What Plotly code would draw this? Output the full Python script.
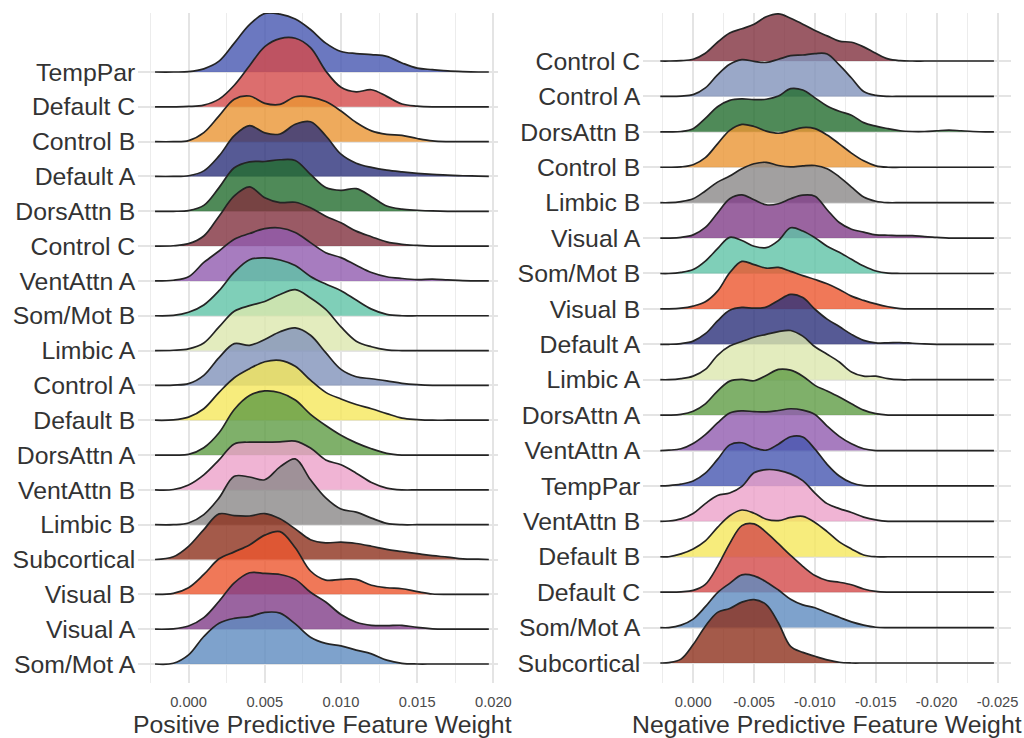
import plotly.graph_objects as go

# ---------------- data ----------------
# x grids (feature weight) at which ridge heights were read
X_POS = [-0.0022, -0.001, 0.000, 0.001, 0.002, 0.003, 0.004, 0.005, 0.006, 0.007, 0.008,
         0.009, 0.010, 0.011, 0.012, 0.013, 0.014, 0.015, 0.016, 0.017, 0.018, 0.019, 0.0197]
X_NEG = [0.0027, 0.002, 0.001, 0.000, -0.001, -0.002, -0.003, -0.004, -0.005, -0.006, -0.007,
         -0.008, -0.009, -0.010, -0.011, -0.012, -0.013, -0.014, -0.015, -0.016, -0.017,
         -0.018, -0.019, -0.020, -0.021, -0.022, -0.023, -0.024, -0.0247]

# row order, bottom -> top
POS_ORDER = ["Som/Mot A", "Visual A", "Visual B", "Subcortical", "Limbic B", "VentAttn B",
             "DorsAttn A", "Default B", "Control A", "Limbic A", "Som/Mot B", "VentAttn A",
             "Control C", "DorsAttn B", "Default A", "Control B", "Default C", "TempPar"]
NEG_ORDER = ["Subcortical", "Som/Mot A", "Default C", "Default B", "VentAttn B", "TempPar",
             "VentAttn A", "DorsAttn A", "Limbic A", "Default A", "Visual B", "Som/Mot B",
             "Visual A", "Limbic B", "Control B", "DorsAttn B", "Control A", "Control C"]

# scaled density heights (in row units)
POS_DENSITY = {
    "TempPar":     [0, 0, 0.01, 0.09, 0.31, 0.83, 1.36, 1.68, 1.66, 1.52, 1.22, 0.83, 0.59, 0.53, 0.50, 0.45, 0.26, 0.11, 0.07, 0.03, 0.01, 0, 0],
    "Default C":   [0, 0, 0.01, 0.05, 0.22, 0.62, 1.18, 1.73, 1.96, 1.97, 1.70, 1.03, 0.56, 0.43, 0.49, 0.30, 0.08, 0.02, 0, 0, 0, 0, 0],
    "Control B":   [0, 0, 0.03, 0.26, 0.74, 1.22, 1.31, 1.10, 1.07, 1.29, 1.28, 1.15, 0.88, 0.55, 0.31, 0.21, 0.18, 0.09, 0.02, 0, 0, 0, 0],
    "Default A":   [0, 0, 0.02, 0.16, 0.59, 1.17, 1.46, 1.25, 1.22, 1.50, 1.57, 1.17, 0.64, 0.38, 0.26, 0.18, 0.13, 0.09, 0.06, 0.04, 0.02, 0.01, 0],
    "DorsAttn B":  [0, 0, 0.02, 0.17, 0.68, 1.25, 1.42, 1.43, 1.48, 1.46, 1.06, 0.68, 0.60, 0.65, 0.42, 0.15, 0.06, 0.03, 0.01, 0, 0, 0, 0],
    "Control C":   [0, 0.01, 0.07, 0.29, 0.86, 1.44, 1.70, 1.39, 1.25, 1.26, 1.10, 0.86, 0.67, 0.43, 0.27, 0.12, 0.05, 0.02, 0, 0, 0, 0, 0],
    "VentAttn A":  [0, 0.02, 0.12, 0.53, 0.86, 1.20, 1.36, 1.50, 1.52, 1.39, 1.10, 0.81, 0.67, 0.45, 0.24, 0.12, 0.07, 0.04, 0.05, 0.03, 0.01, 0, 0],
    "Som/Mot B":   [0, 0.01, 0.10, 0.31, 0.72, 1.25, 1.61, 1.66, 1.60, 1.44, 1.13, 0.91, 0.72, 0.45, 0.19, 0.04, 0, 0, 0, 0, 0, 0, 0],
    "Limbic A":    [0, 0.01, 0.05, 0.22, 0.68, 1.13, 1.29, 1.41, 1.61, 1.75, 1.51, 1.18, 0.68, 0.27, 0.11, 0.02, 0, 0, 0, 0, 0, 0, 0],
    "Control A":   [0, 0.01, 0.05, 0.29, 0.80, 1.20, 1.15, 1.32, 1.54, 1.65, 1.44, 0.94, 0.46, 0.25, 0.19, 0.13, 0.06, 0.02, 0, 0, 0, 0, 0],
    "Default B":   [0, 0.01, 0.09, 0.33, 0.80, 1.22, 1.48, 1.68, 1.72, 1.55, 1.15, 0.80, 0.61, 0.45, 0.33, 0.19, 0.06, 0.02, 0, 0, 0, 0, 0],
    "DorsAttn A":  [0, 0, 0.02, 0.21, 0.64, 1.31, 1.71, 1.84, 1.79, 1.58, 1.17, 0.85, 0.57, 0.35, 0.18, 0.05, 0, 0, 0, 0, 0, 0, 0],
    "VentAttn B":  [0, 0.01, 0.14, 0.43, 0.86, 1.32, 1.37, 1.37, 1.38, 1.40, 1.20, 0.86, 0.72, 0.48, 0.21, 0.05, 0, 0, 0, 0, 0, 0, 0],
    "Limbic B":    [0, 0, 0.05, 0.29, 0.77, 1.39, 1.37, 1.29, 1.66, 1.89, 1.29, 0.77, 0.45, 0.36, 0.19, 0.04, 0, 0, 0, 0, 0, 0, 0],
    "Subcortical": [0, 0.08, 0.38, 0.86, 1.31, 1.26, 1.25, 1.32, 1.17, 0.88, 0.57, 0.48, 0.50, 0.46, 0.38, 0.29, 0.23, 0.17, 0.11, 0.07, 0.02, 0.01, 0],
    "Visual B":    [0, 0.03, 0.19, 0.57, 1.02, 1.22, 1.42, 1.70, 1.80, 1.34, 0.67, 0.41, 0.43, 0.43, 0.26, 0.19, 0.16, 0.08, 0.01, 0, 0, 0, 0],
    "Visual A":    [0, 0.01, 0.09, 0.33, 0.80, 1.33, 1.62, 1.60, 1.57, 1.43, 1.06, 0.78, 0.42, 0.20, 0.11, 0.10, 0.11, 0.05, 0.01, 0, 0, 0, 0],
    "Som/Mot A":   [0, 0.02, 0.26, 0.79, 1.17, 1.31, 1.36, 1.48, 1.46, 1.15, 0.77, 0.59, 0.52, 0.40, 0.29, 0.11, 0.02, 0, 0, 0, 0, 0, 0],
}

NEG_DENSITY = {
    "Control C":   [0, 0, 0.01, 0.05, 0.22, 0.53, 0.79, 0.91, 1.04, 1.25, 1.33, 1.21, 1.04, 0.86, 0.71, 0.56, 0.53, 0.40, 0.22, 0.06, 0.01, 0, 0, 0, 0, 0, 0, 0, 0],
    "Control A":   [0, 0, 0.01, 0.05, 0.24, 0.61, 0.91, 1.04, 0.99, 0.96, 1.05, 1.15, 1.17, 1.21, 1.20, 0.89, 0.52, 0.14, 0.03, 0, 0, 0, 0, 0, 0, 0, 0, 0, 0],
    "DorsAttn B":  [0, 0, 0.01, 0.09, 0.38, 0.71, 0.89, 0.93, 0.91, 0.92, 1.01, 1.22, 1.18, 0.96, 0.73, 0.58, 0.47, 0.26, 0.16, 0.09, 0.03, 0.01, 0.01, 0.03, 0.05, 0.03, 0.01, 0, 0],
    "Control B":   [0, 0, 0.01, 0.07, 0.27, 0.66, 1.04, 1.21, 1.15, 1.02, 0.96, 1.03, 1.12, 1.09, 0.91, 0.66, 0.40, 0.18, 0.04, 0, 0, 0, 0, 0, 0, 0, 0, 0, 0],
    "Limbic B":    [0, 0, 0.03, 0.11, 0.33, 0.58, 0.75, 0.96, 1.10, 1.14, 1.05, 1.01, 1.04, 1.05, 0.96, 0.73, 0.44, 0.16, 0.04, 0, 0, 0, 0, 0, 0, 0, 0, 0, 0],
    "Visual A":    [0, 0, 0.02, 0.09, 0.30, 0.71, 1.11, 1.22, 1.08, 0.94, 0.97, 1.11, 1.21, 1.18, 0.80, 0.44, 0.25, 0.17, 0.09, 0.08, 0.07, 0.07, 0.04, 0.02, 0, 0, 0, 0, 0],
    "Som/Mot B":   [0, 0, 0.03, 0.11, 0.35, 0.70, 1.02, 0.93, 0.77, 0.73, 0.93, 1.29, 1.20, 1.01, 0.77, 0.60, 0.40, 0.21, 0.07, 0.01, 0, 0, 0, 0, 0, 0, 0, 0, 0],
    "Visual B":    [0, 0, 0.02, 0.08, 0.20, 0.50, 1.02, 1.34, 1.25, 1.15, 1.17, 1.06, 0.94, 0.83, 0.71, 0.55, 0.36, 0.24, 0.14, 0.06, 0.01, 0, 0, 0, 0, 0, 0, 0, 0],
    "Default A":   [0, 0, 0.02, 0.09, 0.30, 0.66, 0.96, 1.04, 1.02, 1.05, 1.24, 1.41, 1.32, 0.99, 0.71, 0.50, 0.28, 0.11, 0.04, 0.04, 0.05, 0.03, 0.01, 0, 0, 0, 0, 0, 0],
    "Limbic A":    [0, 0, 0.03, 0.10, 0.29, 0.69, 0.95, 1.08, 1.20, 1.28, 1.36, 1.39, 1.23, 0.93, 0.72, 0.50, 0.22, 0.10, 0.10, 0.03, 0, 0, 0, 0, 0, 0, 0, 0, 0],
    "DorsAttn A":  [0, 0, 0.02, 0.11, 0.32, 0.68, 0.96, 1.01, 0.97, 1.12, 1.29, 1.27, 1.10, 0.84, 0.68, 0.51, 0.32, 0.14, 0.04, 0, 0, 0, 0, 0, 0, 0, 0, 0, 0],
    "VentAttn A":  [0, 0.01, 0.05, 0.20, 0.45, 0.78, 1.06, 1.12, 1.10, 1.09, 1.13, 1.18, 1.14, 1.02, 0.69, 0.40, 0.19, 0.05, 0, 0, 0, 0, 0, 0, 0, 0, 0, 0, 0],
    "TempPar":     [0, 0.01, 0.05, 0.14, 0.36, 0.75, 1.16, 1.22, 1.08, 1.01, 1.18, 1.39, 1.38, 1.04, 0.61, 0.28, 0.09, 0.01, 0, 0, 0, 0, 0, 0, 0, 0, 0, 0, 0],
    "VentAttn B":  [0, 0.01, 0.07, 0.22, 0.50, 0.73, 0.80, 0.99, 1.37, 1.46, 1.44, 1.34, 1.15, 0.80, 0.50, 0.36, 0.25, 0.12, 0.04, 0, 0, 0, 0, 0, 0, 0, 0, 0, 0],
    "Default B":   [0, 0, 0.08, 0.22, 0.45, 0.83, 1.16, 1.32, 1.23, 1.06, 1.02, 1.11, 1.14, 0.97, 0.71, 0.42, 0.22, 0.05, 0, 0, 0, 0, 0, 0, 0, 0, 0, 0, 0],
    "Default C":   [0, 0, 0.01, 0.05, 0.22, 0.73, 1.37, 1.88, 1.93, 1.69, 1.37, 1.04, 0.73, 0.47, 0.33, 0.28, 0.21, 0.09, 0.02, 0, 0, 0, 0, 0, 0, 0, 0, 0, 0],
    "Som/Mot A":   [0, 0, 0.07, 0.24, 0.59, 0.99, 1.25, 1.49, 1.46, 1.29, 1.06, 0.80, 0.64, 0.56, 0.42, 0.29, 0.16, 0.07, 0.01, 0, 0, 0, 0, 0, 0, 0, 0, 0, 0],
    "Subcortical": [0, 0.01, 0.11, 0.52, 1.04, 1.43, 1.54, 1.72, 1.79, 1.65, 1.13, 0.47, 0.30, 0.19, 0.09, 0.02, 0, 0, 0, 0, 0, 0, 0, 0, 0, 0, 0, 0, 0],
}

NETWORK_COLORS = {
    "TempPar": "#4656b0", "Default C": "#d34a4a", "Control B": "#ea9533", "Default A": "#2c317a",
    "DorsAttn B": "#236d2e", "Control C": "#81313e", "VentAttn A": "#915baf", "Som/Mot B": "#5fc3a6",
    "Limbic A": "#dce7ae", "Control A": "#8192ba", "Default B": "#f5e75b", "DorsAttn A": "#5f9c45",
    "VentAttn B": "#eca1c9", "Limbic B": "#8b8888", "Subcortical": "#8d311d", "Visual B": "#ec562e",
    "Visual A": "#813d88", "Som/Mot A": "#5e8bbf",
}

POS_TICKS = [0.000, 0.005, 0.010, 0.015, 0.020]
POS_TICKTEXT = ["0.000", "0.005", "0.010", "0.015", "0.020"]
NEG_TICKS = [0.000, -0.005, -0.010, -0.015, -0.020, -0.025]
NEG_TICKTEXT = ["0.000", "-0.005", "-0.010", "-0.015", "-0.020", "-0.025"]

# ---------------- figure ----------------
REF_W, H = 1024, 738          # layout reference frame (fractions below are of this width)
FIG_W = 1040                  # page is captured ~16px wider than the window; keep proportions
FONT = "Liberation Sans, Arial, Helvetica, sans-serif"
ALPHA = 0.8


def rgba(hexcol, a):
    h = hexcol.lstrip("#")
    r, g, b = int(h[0:2], 16), int(h[2:4], 16), int(h[4:6], 16)
    return f"rgba({r},{g},{b},{a})"


fig = go.Figure()


def add_panel(xs, order, dens, xa, ya):
    for idx in reversed(range(len(order))):
        row = idx + 1
        name = order[idx]
        fig.add_trace(go.Scatter(x=xs, y=[row] * len(xs), mode="lines",
                                 line=dict(width=0, color="rgba(0,0,0,0)"),
                                 hoverinfo="skip", showlegend=False, xaxis=xa, yaxis=ya))
        fig.add_trace(go.Scatter(x=xs, y=[row + h for h in dens[name]], mode="lines",
                                 fill="tonexty", fillcolor=rgba(NETWORK_COLORS[name], ALPHA),
                                 line=dict(color="#242424", width=1.7, shape="spline", smoothing=1.0),
                                 name=name, showlegend=False, xaxis=xa, yaxis=ya))


add_panel(X_POS, POS_ORDER, POS_DENSITY, "x", "y")
add_panel(X_NEG, NEG_ORDER, NEG_DENSITY, "x2", "y2")

y_dom = [1 - 683 / H, 1 - 13 / H]
grid_major = "#e4e4e4"
grid_minor = "#ececec"

xcommon = dict(showgrid=True, gridcolor=grid_major, gridwidth=1.6, zeroline=False, showline=False,
               ticks="outside", ticklen=5, tickcolor="rgba(0,0,0,0)",
               tickfont=dict(family=FONT, size=14.7, color="#4a4a4a"), fixedrange=True)
ycommon = dict(showgrid=True, gridcolor=grid_major, gridwidth=1.6, zeroline=False, showline=False,
               ticks="", ticklabelstandoff=2,
               tickfont=dict(family=FONT, size=24.8, color="#333333"), fixedrange=True,
               tickmode="array", tickvals=list(range(1, 19)))

fig.update_layout(
    width=FIG_W, height=H, autosize=False, margin=dict(l=0, r=0, t=0, b=0),
    paper_bgcolor="white", plot_bgcolor="white", showlegend=False,
    xaxis=dict(domain=[138 / REF_W, 497 / REF_W], range=[-0.0033, 0.0203], anchor="y",
               tickmode="array", tickvals=POS_TICKS, ticktext=POS_TICKTEXT,
               minor=dict(tickmode="array", tickvals=[-0.0025, 0.0025, 0.0075, 0.0125, 0.0175],
                          showgrid=True, gridcolor=grid_minor, gridwidth=1.2, ticks=""),
               **xcommon),
    yaxis=dict(domain=y_dom, range=[0.454, 19.694], anchor="x", ticktext=POS_ORDER, **ycommon),
    xaxis2=dict(domain=[642 / REF_W, 1009 / REF_W], range=[0.0041, -0.0261], anchor="y2",
                tickmode="array", tickvals=NEG_TICKS, ticktext=NEG_TICKTEXT,
                minor=dict(tickmode="array",
                           tickvals=[0.0025, -0.0025, -0.0075, -0.0125, -0.0175, -0.0225],
                           showgrid=True, gridcolor=grid_minor, gridwidth=1.2, ticks=""),
                **xcommon),
    yaxis2=dict(domain=y_dom, range=[0.435, 19.356], anchor="x2", ticktext=NEG_ORDER, **ycommon),
    annotations=[
        dict(text="Positive Predictive Feature Weight", x=322 / REF_W, y=1 - 724 / H,
             xref="paper", yref="paper", xanchor="center", yanchor="middle", showarrow=False,
             font=dict(family=FONT, size=24.8, color="#333333")),
        dict(text="Negative Predictive Feature Weight", x=825.5 / REF_W, y=1 - 724 / H,
             xref="paper", yref="paper", xanchor="center", yanchor="middle", showarrow=False,
             font=dict(family=FONT, size=24.8, color="#333333")),
    ],
)

PAGE_FIX = ("document.documentElement.style.margin='0px';"
            "document.body.style.margin='0px';"
            "document.body.style.padding='0px';")

fig.write_html("out.html", config={"displayModeBar": False, "responsive": False},
               default_width=f"{FIG_W}px", default_height=f"{H}px",
               post_script=PAGE_FIX)
